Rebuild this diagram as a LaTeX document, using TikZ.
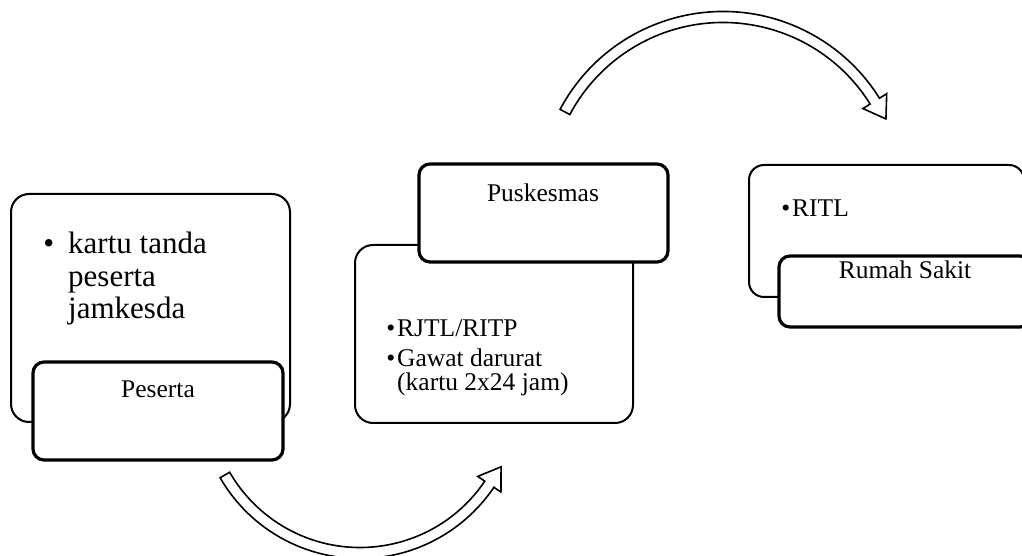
\documentclass[tikz,border=0pt]{standalone}
\usepackage{fontspec}
\setmainfont{Liberation Serif}
\usetikzlibrary{calc}
\begin{document}
\begin{tikzpicture}[x=1pt,y=1pt,
  bigbox/.style={draw=black, line width=2pt, rounded corners=18pt, fill=white},
  smallbox/.style={draw=black, line width=3.2pt, rounded corners=11pt, fill=white},
  hollowarrow/.style={draw=black, line width=1.6pt, fill=white, line join=miter},
  txt/.style={inner sep=0pt, font=\fontsize{25.5}{24}\selectfont},
  bigtxt/.style={inner sep=0pt, font=\fontsize{31}{32.5}\selectfont, align=left}]
\useasboundingbox (0,0) rectangle (1022,556);
\clip (0,0) rectangle (1022,556);

% box 1: Peserta
\draw[bigbox] (11,134) rectangle (290,362);
\draw[smallbox] (33,96) rectangle (283,194);
\node[bigtxt, anchor=north west] (kartu) at (68,324) {\llap{•\hspace{14pt}}kartu tanda\\peserta\\jamkesda};
\node[txt, anchor=base] (peserta) at (158,158) {Peserta};

% box 2: Puskesmas
\draw[bigbox] (355,133) rectangle (633,311);
\draw[smallbox] (419,294) rectangle (668,392);
\node[txt, anchor=base] (puskesmas) at (543,354) {Puskesmas};
\node[txt, anchor=north west, align=left] (layanan) at (397,237) {\llap{•\hspace{2pt}}RJTL/RITP\\[6pt]\llap{•\hspace{2pt}}Gawat darurat\\(kartu 2x24 jam)};

% box 3: Rumah Sakit
\draw[bigbox, rounded corners=15pt] (749,259) rectangle (1024,391);
\draw[smallbox] (779,229) rectangle (1031,300);
\node[txt, anchor=base west] (ritl) at (792,339) {\llap{•\hspace{2pt}}RITL};
\node[txt, anchor=base] (rs) at (905,277) {Rumah Sakit};

% top curved arrow
\coordinate (ct) at (723,360);
\draw[hollowarrow] ([shift={(152:184.5pt)}]ct) arc[start angle=152, end angle=32, radius=184.5pt]
  -- ([shift={(32:193pt)}]ct)
  -- ($([shift={(32:179pt)}]ct)+(-58:21pt)$)
  -- ([shift={(32:165pt)}]ct)
  -- ([shift={(32:173.5pt)}]ct) arc[start angle=32, end angle=152, radius=173.5pt]
  -- cycle;

% bottom curved arrow
\coordinate (cb) at (360,159);
\draw[hollowarrow] ([shift={(210:161.5pt)}]cb) arc[start angle=210, end angle=326, radius=161.5pt]
  -- ([shift={(326:170pt)}]cb)
  -- ($([shift={(326:156pt)}]cb)+(56:21pt)$)
  -- ([shift={(326:142pt)}]cb)
  -- ([shift={(326:150.5pt)}]cb) arc[start angle=326, end angle=210, radius=150.5pt]
  -- cycle;
\end{tikzpicture}
\end{document}
